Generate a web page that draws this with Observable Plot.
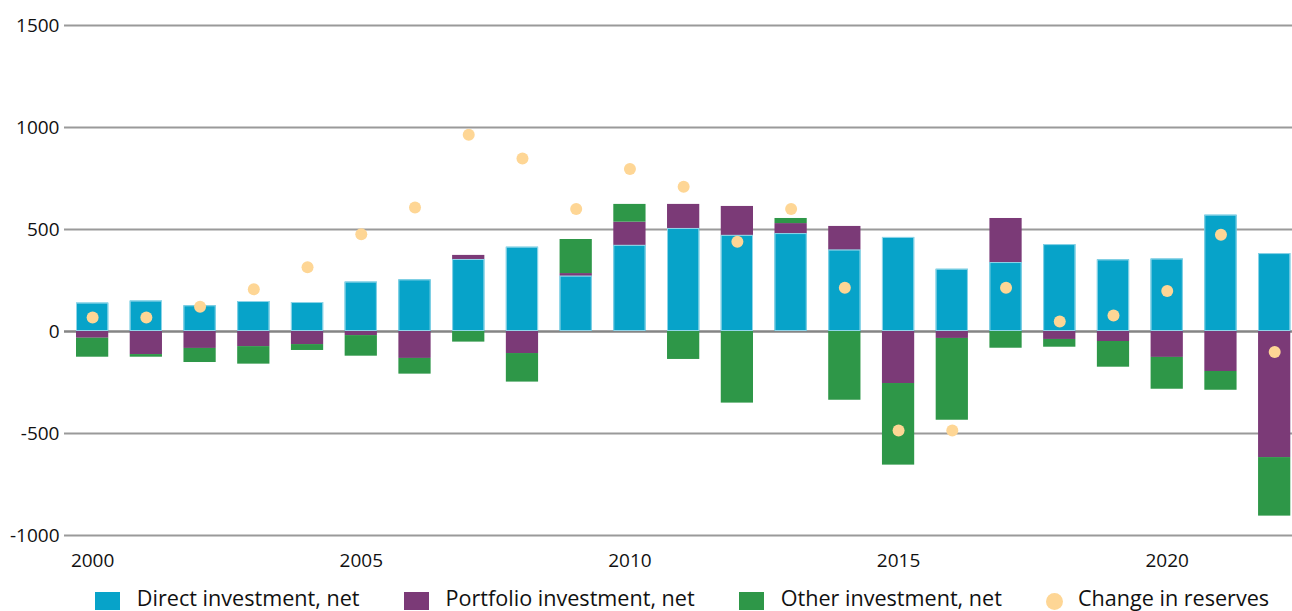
<!DOCTYPE html>
<html><head><meta charset="utf-8">
<script src="https://cdn.jsdelivr.net/npm/d3@7"></script>
<script src="https://cdn.jsdelivr.net/npm/@observablehq/plot@0.6"></script>
<style>
body{margin:0;background:#fff;font-family:"Open Sans",sans-serif;}
#wrap{position:relative;width:1292px;height:611px;overflow:hidden;background:#fff;}
#legend{position:absolute;left:0;top:587px;width:1292px;display:flex;justify-content:center;align-items:flex-start;padding-left:72px;box-sizing:border-box;font-size:21.6px;line-height:22px;color:#111;}
.item{display:flex;align-items:flex-start;margin:0 22px;}
.sw{width:25px;height:18px;margin-top:5px;margin-right:17px;}
.dotsw{width:17px;height:17px;border-radius:50%;margin-top:6px;margin-right:15px;}
</style></head><body>
<div id="wrap"><div id="chart"></div><div id="legend"></div></div>
<script>
const years = [2000,2001,2002,2003,2004,2005,2006,2007,2008,2009,2010,2011,2012,2013,2014,2015,2016,2017,2018,2019,2020,2021,2022];
const direct    = [139,149,126,147,142,242,253,353,413,271,422,505,471,480,399,461,305,338,426,351,355,570,382];
const portfolio = [-33,-113,-83,-74,-64,-20,-132,20,-108,13,114,118,142,49,116,-255,-34,216,-39,-49,-127,-196,-618];
const other     = [-93,-13,-69,-86,-29,-101,-77,-52,-140,167,87,-137,-351,25,-337,-400,-401,-82,-38,-126,-156,-92,-287];
const reserves  = [69,69,121,207,315,477,608,964,848,600,797,709,440,600,214,-485,-485,214,49,78,199,474,-101];

const seriesNames = ["Direct investment, net","Portfolio investment, net","Other investment, net"];
const seriesColors = ["#07a3c9","#7b3a77","#2e9748"];
const reservesName = "Change in reserves";
const reservesColor = "#fed695";
const yTicks = [-1000,-500,0,500,1000,1500];
const xTickYears = [2000,2005,2010,2015,2020];

const seriesValues = [direct, portfolio, other];
const table = [];
seriesNames.forEach((s, k) => years.forEach((y, i) => table.push({year: y, series: s, value: seriesValues[k][i]})));
const directRows = years.map((y, i) => ({year: y, value: direct[i]}));
const reservesRows = years.map((y, i) => ({year: y, value: reserves[i]}));

const chart = Plot.plot({
  width: 1292, height: 580,
  marginLeft: 64, marginRight: 0, marginTop: 25, marginBottom: 45,
  style: {fontFamily: "Open Sans", fontSize: "19px", color: "#111", background: "#fff"},
  x: {type: "band", domain: years, paddingInner: 0.4, paddingOuter: 0.1275, align: 0.876, round: false, label: null},
  y: {domain: [-1000, 1500], label: null},
  color: {domain: seriesNames, range: seriesColors},
  marks: [
    Plot.ruleY(yTicks.filter(d => d !== 0), {stroke: "#9a9a9a", strokeWidth: 2}),
    Plot.ruleY([0], {stroke: "#858585", strokeWidth: 2.5}),
    Plot.barY(table, {x: "year", y: "value", fill: "series", z: "series", order: null}),
    Plot.barY(directRows, {x: "year", y: "value", fill: "none", stroke: "#8fd5e8", strokeWidth: 1, inset: 0.5}),
    Plot.dot(reservesRows, {x: "year", y: "value", r: 6, fill: reservesColor, stroke: "none"}),
    Plot.axisY({ticks: yTicks, tickSize: 0, tickPadding: 5, tickFormat: d => String(d), label: null}),
    Plot.axisX({ticks: xTickYears, tickSize: 0, tickPadding: 18, tickFormat: d => String(d), label: null})
  ]
});
document.getElementById("chart").appendChild(chart);

const legend = document.getElementById("legend");
seriesNames.forEach((s, k) => {
  const it = document.createElement("div"); it.className = "item";
  const sw = document.createElement("div"); sw.className = "sw"; sw.style.background = seriesColors[k];
  const tx = document.createElement("span"); tx.textContent = s;
  it.appendChild(sw); it.appendChild(tx); legend.appendChild(it);
});
{
  const it = document.createElement("div"); it.className = "item";
  const sw = document.createElement("div"); sw.className = "dotsw"; sw.style.background = reservesColor;
  const tx = document.createElement("span"); tx.textContent = reservesName;
  it.appendChild(sw); it.appendChild(tx); legend.appendChild(it);
}
</script>
</body></html>
